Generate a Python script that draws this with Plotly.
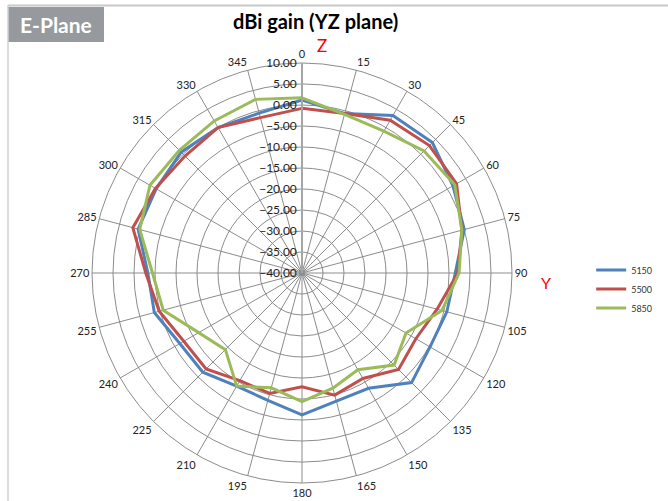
import plotly.graph_objects as go

angles = [0, 15, 30, 45, 60, 75, 90, 105, 120, 135, 150, 165,
          180, 195, 210, 225, 240, 255, 270, 285, 300, 315, 330, 345]
angle_labels = [str(a) for a in angles]

gain_5150 = [1.2, -0.7, 3.3, 3.9, 1.5, 0.0, -3.5, -4.3, -4.8, -3.1, -8.3, -8.4,
             -6.2, -8.6, -8.9, -6.6, -6.4, -3.6, -3.3, 0.4, 0.1, 0.7, 0.0, -0.6]
gain_5500 = [-0.8, -0.7, 2.0, 2.9, 2.5, -0.6, -2.9, -6.7, -8.7, -7.5, -11.0, -9.9,
             -12.9, -10.3, -10.4, -7.7, -7.5, -4.8, -2.8, 1.7, 0.3, -0.6, 0.0, -1.7]
gain_5850 = [1.7, -0.9, -1.0, 1.1, 2.0, -0.6, -2.6, -5.5, -11.4, -9.0, -13.4, -11.6,
             -9.4, -11.7, -8.9, -14.2, -11.6, -5.8, -4.4, 0.0, 1.8, 1.3, 1.8, 2.8]

series = [("5150", gain_5150, "#4F81BD"),
          ("5500", gain_5500, "#C0504D"),
          ("5850", gain_5850, "#9BBB59")]

radial_ticks = [10, 5, 0, -5, -10, -15, -20, -25, -30, -35, -40]

W, H = 668, 501
cx, cy, R = 302, 273, 210

fig = go.Figure()
for name, vals, col in series:
    fig.add_trace(go.Scatterpolar(
        r=vals + vals[:1], theta=angles + angles[:1], mode="lines", name=name,
        line=dict(color=col, width=3)))

fig.update_layout(
    width=W, height=H, margin=dict(l=0, r=0, t=0, b=0),
    paper_bgcolor="white", font=dict(family="Lato, Liberation Sans, sans-serif", color="#333"),
    polar=dict(
        domain=dict(x=[(cx - R) / W, (cx + R) / W], y=[1 - (cy + R) / H, 1 - (cy - R) / H]),
        bgcolor="white", gridshape="linear",
        angularaxis=dict(direction="clockwise", rotation=90, tickmode="array",
                         tickvals=angles, ticktext=angle_labels, ticks="",
                         gridcolor="#8C8C8C", gridwidth=1, linecolor="#8C8C8C", linewidth=1,
                         tickfont=dict(size=11, color="#222")),
        radialaxis=dict(range=[-40, 10], angle=90, tickangle=90, tickmode="array",
                        tickvals=radial_ticks, tickformat=".2f", ticks="",
                        gridcolor="#8C8C8C", gridwidth=1, showline=True,
                        linecolor="#A6A6A6", linewidth=2, side="counterclockwise",
                        tickfont=dict(size=12, color="#222")),
    ),
    legend=dict(x=0.885, y=1 - 289 / H, xanchor="left", yanchor="middle",
                font=dict(size=9, color="#333"), bgcolor="rgba(0,0,0,0)"),
    showlegend=True,
    shapes=[
        dict(type="line", xref="paper", yref="paper", x0=8 / W, x1=1, y0=1 - 5.5 / H, y1=1 - 5.5 / H,
             line=dict(color="#C8C8C8", width=2)),
        dict(type="line", xref="paper", yref="paper", x0=8 / W, x1=8 / W, y0=0, y1=1 - 5 / H,
             line=dict(color="#D0D0D0", width=1.5)),
        dict(type="rect", xref="paper", yref="paper", x0=8 / W, x1=104 / W, y0=1 - 42 / H, y1=1 - 7 / H,
             fillcolor="#969A9F", line=dict(width=0), layer="below"),
    ],
    annotations=[
        dict(text="<b>E-Plane</b>", xref="paper", yref="paper", x=56 / W, y=1 - 24 / H,
             xanchor="center", yanchor="middle",
             showarrow=False, font=dict(size=21, color="white")),
        dict(text="<b>dBi gain (YZ plane)</b>", xref="paper", yref="paper", x=315 / W, y=1 - 21 / H,
             xanchor="center", yanchor="middle",
             showarrow=False, font=dict(size=20, color="black")),
        dict(text="Z", xref="paper", yref="paper", x=322 / W, y=1 - 46 / H,
             xanchor="center", yanchor="middle",
             showarrow=False, font=dict(size=17, color="red")),
        dict(text="Y", xref="paper", yref="paper", x=546 / W, y=1 - 282 / H,
             xanchor="center", yanchor="middle",
             showarrow=False, font=dict(size=16, color="red")),
    ],
)

fig.write_html("out.html", config={"displayModeBar": False},
               post_script="document.body.style.margin='0';document.body.style.overflow='hidden';")
